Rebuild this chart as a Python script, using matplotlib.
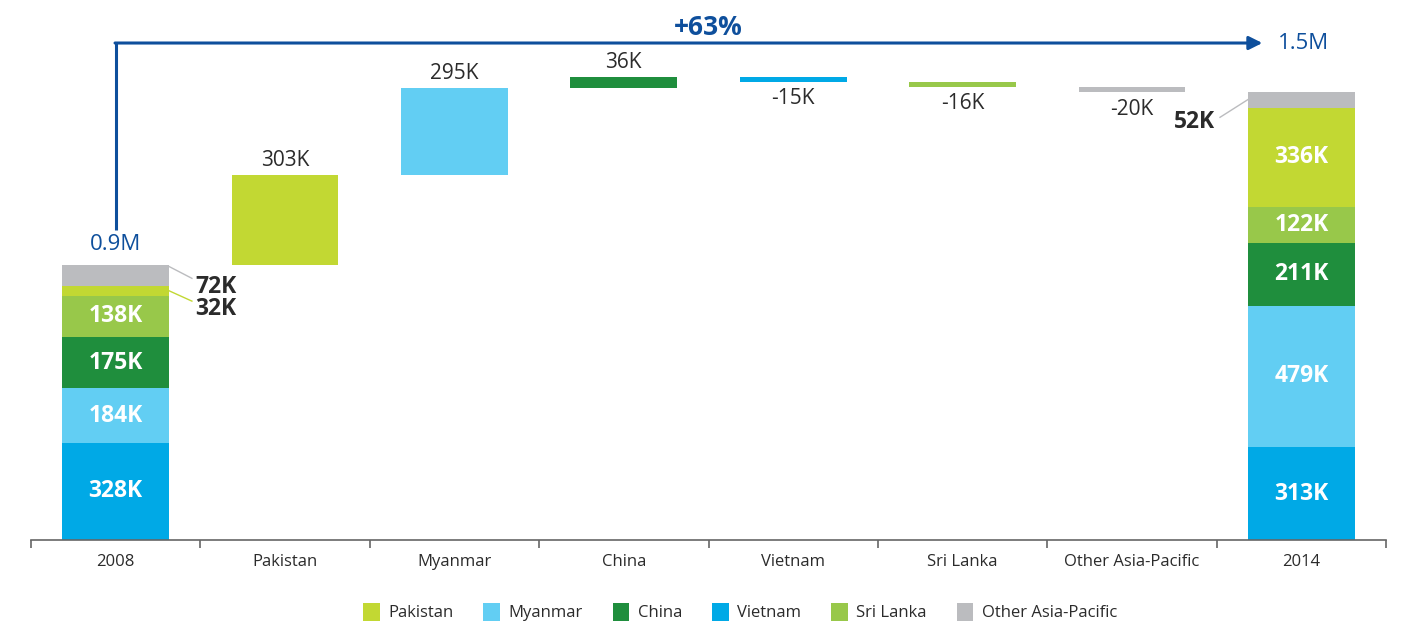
import matplotlib
matplotlib.use("Agg")
import matplotlib.pyplot as plt
from matplotlib.patches import Patch

plt.rcParams["font.family"] = ["Open Sans", "DejaVu Sans"]

categories = ["2008", "Pakistan", "Myanmar", "China", "Vietnam", "Sri Lanka",
              "Other Asia-Pacific", "2014"]
# stack order from bottom: Vietnam, Myanmar, China, Sri Lanka, Pakistan, Other
stack_names = ["Vietnam", "Myanmar", "China", "Sri Lanka", "Pakistan", "Other Asia-Pacific"]
start_2008 = [328, 184, 175, 138, 32, 72]
end_2014 = [313, 479, 211, 122, 336, 52]
change_names = ["Pakistan", "Myanmar", "China", "Vietnam", "Sri Lanka", "Other Asia-Pacific"]
changes = [303, 295, 36, -15, -16, -20]
legend_order = ["Pakistan", "Myanmar", "China", "Vietnam", "Sri Lanka", "Other Asia-Pacific"]

colors = {
    "Pakistan": "#C2D833",
    "Myanmar": "#62CEF3",
    "China": "#1F8E3D",
    "Vietnam": "#00A9E6",
    "Sri Lanka": "#98C84A",
    "Other Asia-Pacific": "#BBBCBF",
}
BLUE = "#0E4F9C"
DARK = "#2B2B2B"

fig = plt.figure(figsize=(14.04, 6.23), dpi=100)
ax = fig.add_axes([31 / 1404, 83 / 623, 1355 / 1404, 540 / 623])
ax.set_xlim(-0.5, 7.5)
ax.set_ylim(0, 540 / 0.296)
w = 0.63


def stack(x, vals, small_labels):
    bottom = 0
    for name, v in zip(stack_names, vals):
        ax.bar(x, v, w, bottom=bottom, color=colors[name], linewidth=0)
        if name not in small_labels:
            ax.text(x, bottom + v / 2, f"{v}K", ha="center", va="center",
                    color="white", fontsize=16.5, fontweight="bold")
        bottom += v
    return bottom


total_08 = stack(0, start_2008, ["Pakistan", "Other Asia-Pacific"])
total_14 = stack(7, end_2014, ["Other Asia-Pacific"])

# outside labels for thin segments in 2008
top_other = total_08
top_pak = total_08 - start_2008[5]
ax.plot([w / 2, 0.45], [top_other - 5, top_other - 45], color="#BBBCBF", lw=1)
ax.plot([w / 2, 0.45], [top_pak - 15, top_pak - 50], color=colors["Pakistan"], lw=1)
ax.text(0.47, top_other - 75, f"{start_2008[5]}K", ha="left", va="center",
        color=DARK, fontsize=16.5, fontweight="bold")
ax.text(0.47, top_other - 150, f"{start_2008[4]}K", ha="left", va="center",
        color=DARK, fontsize=16.5, fontweight="bold")

# outside label for 2014 other
ax.plot([7 - w / 2, 7 - 0.48], [total_14 - 25, total_14 - 85], color="#BBBCBF", lw=1)
ax.text(7 - 0.51, total_14 - 100, f"{end_2014[5]}K", ha="right", va="center",
        color=DARK, fontsize=16.5, fontweight="bold")

# waterfall steps
level = total_08
for i, (name, c) in enumerate(zip(change_names, changes), start=1):
    lo, hi = (level, level + c) if c > 0 else (level + c, level)
    ax.bar(i, hi - lo, w, bottom=lo, color=colors[name], linewidth=0)
    if c > 0:
        ax.text(i, hi + 14, f"{c}K", ha="center", va="bottom", color=DARK, fontsize=15)
    else:
        ax.text(i, lo - 22, f"{c}K", ha="center", va="top", color=DARK, fontsize=15)
    level += c

# growth arrow
arrow_y = 1679
ax.plot([0, 0], [total_08 + 118, arrow_y], color=BLUE, lw=2.2, solid_capstyle="butt")
ax.annotate("", xy=(6.77, arrow_y), xytext=(-0.004, arrow_y),
            arrowprops=dict(arrowstyle="-|>", color=BLUE, lw=2.2,
                            mutation_scale=20, shrinkA=0, shrinkB=0))
ax.text(0, total_08 + 68, "0.9M", ha="center", va="center", color=BLUE, fontsize=16)
ax.text(6.86, arrow_y, "1.5M", ha="left", va="center", color=BLUE, fontsize=16)
pct = (total_14 / total_08 - 1) * 100
ax.text(3.5, 1733, f"+{pct:.0f}%", ha="center", va="center", color=BLUE,
        fontsize=19, fontweight="bold")

# axis styling
for s in ["top", "right", "left"]:
    ax.spines[s].set_visible(False)
ax.spines["bottom"].set_color("#666666")
ax.spines["bottom"].set_linewidth(1.2)
ax.set_yticks([])
ax.set_xticks([i - 0.5 for i in range(9)])
ax.set_xticklabels([])
ax.set_xticks(range(8), minor=True)
ax.set_xticklabels(categories, minor=True)
ax.tick_params(axis="x", which="major", length=6, color="#666666", width=1.2)
ax.tick_params(axis="x", which="minor", length=0, pad=10, labelsize=12,
               labelcolor=DARK)

handles = [Patch(facecolor=colors[n], label=n) for n in legend_order]
fig.legend(handles=handles, loc="center", bbox_to_anchor=(740 / 1404, 1 - 612 / 623),
           ncol=6, frameon=False, fontsize=12, handlelength=1.0, handleheight=1.3,
           handletextpad=0.5, columnspacing=1.8, labelcolor=DARK)

fig.savefig("out.png", dpi=100)
